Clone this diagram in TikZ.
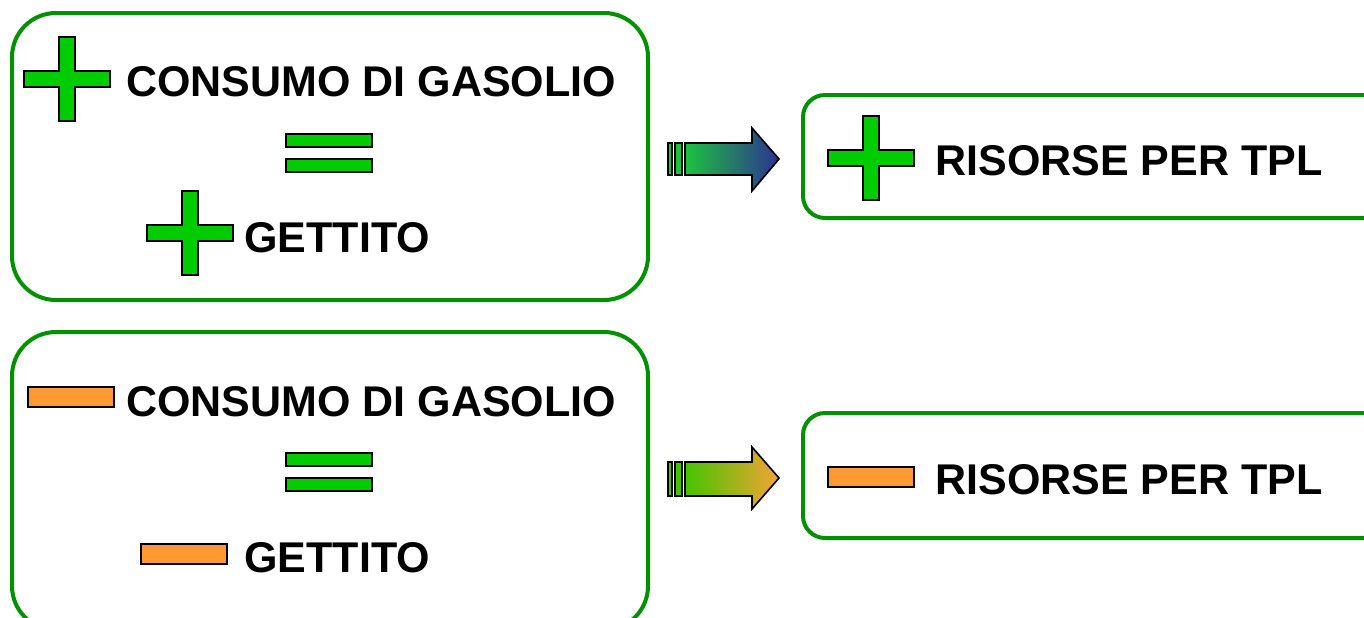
\documentclass[tikz,border=0pt]{standalone}
\usepackage{fontspec}
\setmainfont{Liberation Sans}
\definecolor{boxgreen}{RGB}{0,145,0}
\definecolor{plusgreen}{RGB}{0,204,0}
\definecolor{minusorange}{RGB}{255,153,51}
\definecolor{arrgreenA}{RGB}{28,194,64}
\definecolor{arrblue}{RGB}{46,49,146}
\definecolor{arrgreenB}{RGB}{68,196,0}
\definecolor{arrorange}{RGB}{245,163,51}
\tikzset{
  bigbox/.style={draw=boxgreen, line width=2pt, rounded corners=22pt},
  smallbox/.style={draw=boxgreen, line width=2pt, rounded corners=11pt},
  symb/.style={draw=black, line width=0.8pt},
  label/.style={anchor=base west, inner sep=0pt, font=\fontsize{21.5pt}{24pt}\selectfont\bfseries},
  plussign/.pic={\draw[symb, fill=plusgreen] (-8,-42) -- (8,-42) -- (8,-8) -- (43,-8) -- (43,8) -- (8,8) -- (8,42) -- (-8,42) -- (-8,8) -- (-43,8) -- (-43,-8) -- (-8,-8) -- cycle;},
  minussign/.pic={\draw[symb, fill=minusorange] (-43,-10) rectangle (43,10);},
  equalsign/.pic={\draw[symb, fill=plusgreen] (-43,-24) rectangle (43,-11);
                  \draw[symb, fill=plusgreen] (-43,1) rectangle (43,14);}
}
\begin{document}
\begin{tikzpicture}[x=0.5pt,y=-0.5pt]
\clip (0,0) rectangle (1364,617);
\fill[white] (0,0) rectangle (1364,617);

% ---- top row ----
\draw[bigbox] (12,13) rectangle (648,300);
\coordinate (b1e) at (648,156);
\pic at (67,79) {plussign};
\node[label] (t1) at (126,96) {CONSUMO DI GASOLIO};
\pic at (329,158) {equalsign};
\pic at (190,233) {plussign};
\node[label] (t2) at (244,252) {GETTITO};

\draw[symb, fill=arrgreenA] (668,143) rectangle (672,175);
\draw[symb, fill=arrgreenA] (675,143) rectangle (682,175);
\shadedraw[symb, left color=arrgreenA, right color=arrblue]
  (685,143) -- (752,143) -- (752,128) -- (779,159) -- (752,191) -- (752,175) -- (685,175) -- cycle;

\draw[smallbox] (803,95) rectangle (1390,218);
\pic at (871,158) {plussign};
\node[label] (t3) at (935,175) {RISORSE PER TPL};

% ---- bottom row ----
\draw[bigbox] (12,332) rectangle (648,630);
\pic at (71,397) {minussign};
\node[label] (t4) at (126,416) {CONSUMO DI GASOLIO};
\pic at (329,477) {equalsign};
\pic at (184,554) {minussign};
\node[label] (t5) at (244,572) {GETTITO};

\draw[symb, fill=arrgreenB] (668,462) rectangle (672,496);
\draw[symb, fill=arrgreenB] (675,462) rectangle (682,496);
\shadedraw[symb, left color=arrgreenB, right color=arrorange]
  (685,462) -- (752,462) -- (752,447) -- (779,478) -- (752,509) -- (752,496) -- (685,496) -- cycle;

\draw[smallbox] (803,413) rectangle (1390,538);
\pic at (871,477) {minussign};
\node[label] (t6) at (935,494) {RISORSE PER TPL};
\end{tikzpicture}
\end{document}
